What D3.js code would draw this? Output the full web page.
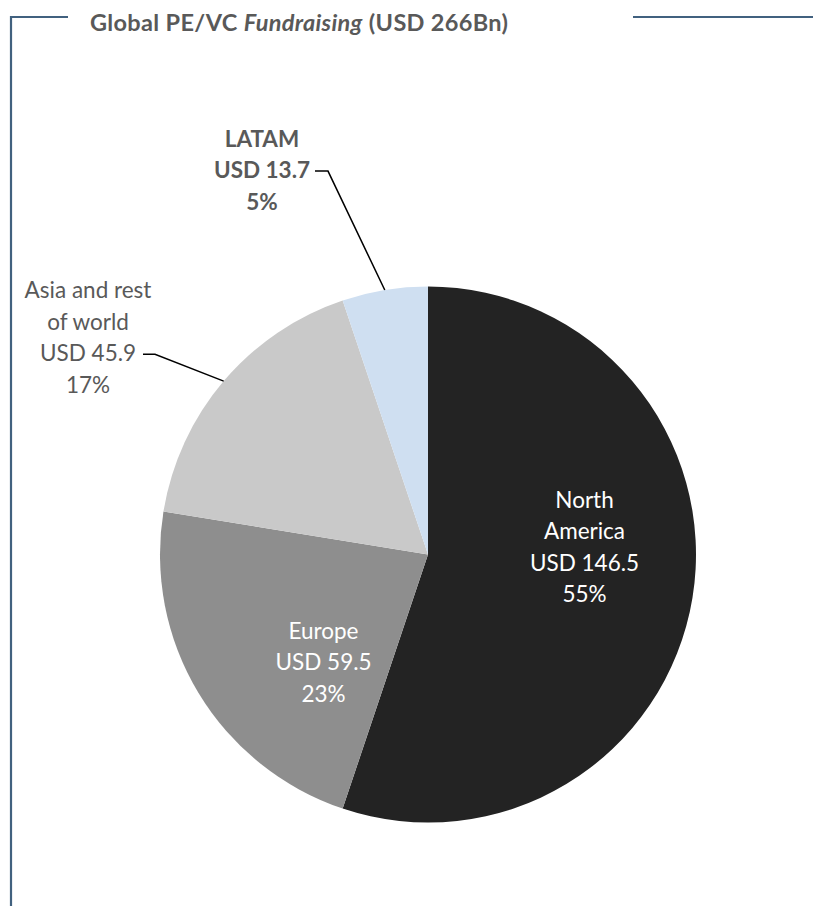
<!DOCTYPE html>
<html>
<head>
<meta charset="utf-8">
<script src="https://cdn.jsdelivr.net/npm/d3@7"></script>
<style>
  html, body { margin: 0; padding: 0; background: #ffffff; }
  svg { display: block; }
  text { font-family: Lato, "Open Sans", sans-serif; }
</style>
</head>
<body>
<svg id="chart" width="813" height="906"></svg>
<script>
// Fundraising by region, USD billions
const regions = ["North America", "Europe", "Asia and rest of world", "LATAM"];
const amounts = [146.5, 59.5, 45.9, 13.7];
const shares = ["55%", "23%", "17%", "5%"];
const labelLines = [
  ["North", "America", "USD 146.5", "55%"],
  ["Europe", "USD 59.5", "23%"],
  ["Asia and rest", "of world", "USD 45.9", "17%"],
  ["LATAM", "USD 13.7", "5%"]
];
const sliceColors = ["#232323", "#8e8e8e", "#c9c9c9", "#cfdff1"];

const W = 813, H = 906;
const cx = 428, cy = 554.5, R = 268;
const frameColor = "#41617f";
const textGrey = "#595959";
const fontSize = 22.5, lineGap = 31.6;

const svg = d3.select("#chart");

// Frame: top rule broken by the title, plus the left rule
svg.append("path")
  .attr("d", `M11,${H} L11,17 L68,17`)
  .attr("fill", "none").attr("stroke", frameColor).attr("stroke-width", 2.2);
svg.append("line")
  .attr("x1", 633).attr("x2", W).attr("y1", 17).attr("y2", 17)
  .attr("stroke", frameColor).attr("stroke-width", 2.2);

const title = svg.append("text")
  .attr("x", 90).attr("y", 31)
  .attr("fill", textGrey).attr("font-weight", "bold").attr("font-size", 23.5);
title.append("tspan").text("Global PE/VC ");
title.append("tspan").attr("font-style", "italic").text("Fundraising");
title.append("tspan").text(" (USD 266Bn)");
// keep the title spanning the gap in the top rule
title.attr("textLength", 418).attr("lengthAdjust", "spacing");

const data = regions.map((r, i) => ({ region: r, value: amounts[i], share: shares[i], lines: labelLines[i], color: sliceColors[i] }));

const pie = d3.pie().value(d => d.value).sort(null);
const arcs = pie(data);
const arc = d3.arc().innerRadius(0).outerRadius(R);

const g = svg.append("g").attr("transform", `translate(${cx},${cy})`);
g.selectAll("path.slice")
  .data(arcs)
  .join("path")
  .attr("class", "slice")
  .attr("d", arc)
  .attr("fill", d => d.data.color);

// Label placement: inner labels in white, outer ones with leader lines
const labelSpecs = [
  { inside: true, x: 584.5, y0: 507.5, fill: "#ffffff", bold: false },
  { inside: true, x: 323.5, y0: 638.5, fill: "#ffffff", bold: false },
  { inside: false, x: 88, y0: 298, fill: textGrey, bold: false, anchorLine: 2, lineStartX: 143, elbowX: 155 },
  { inside: false, x: 262, y0: 146.5, fill: textGrey, bold: true, anchorLine: 1, lineStartX: 315, elbowX: 328 }
];

arcs.forEach((a, i) => {
  const spec = labelSpecs[i];
  const t = svg.append("text")
    .attr("text-anchor", "middle")
    .attr("font-size", fontSize)
    .attr("font-weight", spec.bold ? "bold" : "normal")
    .attr("fill", spec.fill);
  a.data.lines.forEach((ln, k) => {
    t.append("tspan").attr("x", spec.x).attr("y", spec.y0 + k * lineGap).text(ln);
  });
  if (!spec.inside) {
    const mid = (a.startAngle + a.endAngle) / 2;
    const ex = cx + R * Math.sin(mid);
    const ey = cy - R * Math.cos(mid);
    const ly = spec.y0 + spec.anchorLine * lineGap - 7;
    svg.append("polyline")
      .attr("points", `${spec.lineStartX},${ly} ${spec.elbowX},${ly} ${ex},${ey}`)
      .attr("fill", "none").attr("stroke", "#000000").attr("stroke-width", 1.5);
  }
});
</script>
</body>
</html>
